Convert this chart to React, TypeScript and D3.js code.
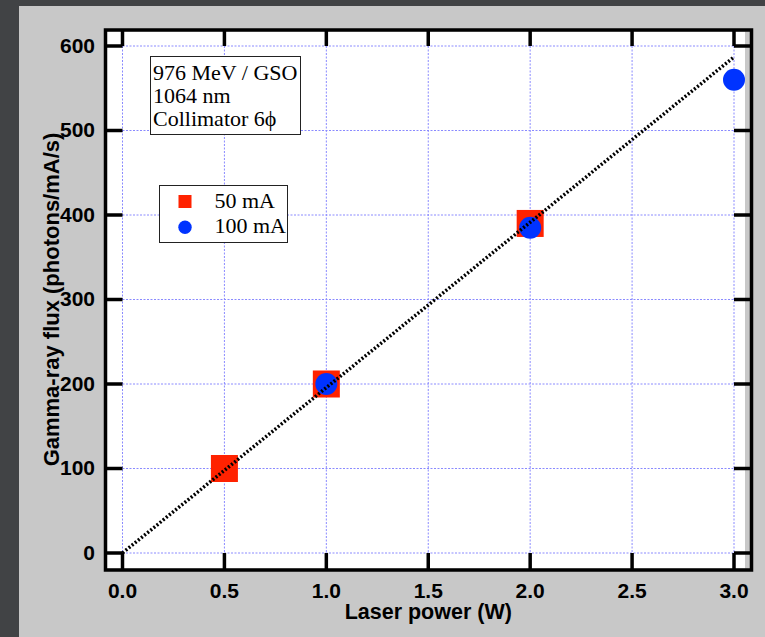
import React from "react";
import * as d3 from "d3";

// laser power (W) vs gamma-ray flux (photons/mA/s)
const power50 = [0.5, 1.0, 2.0];
const flux50 = [100, 200, 390];
const power100 = [1.0, 2.0, 3.0];
const flux100 = [200, 385, 560];
const fitPower = [0, 3.0];
const fitFlux = [0, 587];
const xTicks = [0, 0.5, 1.0, 1.5, 2.0, 2.5, 3.0];
const yTicks = [0, 100, 200, 300, 400, 500, 600];
const noteLines = ["976 MeV / GSO", "1064 nm", "Collimator 6\u03D5"];
const legendLabels = ["50 mA", "100 mA"];

const W = 765;
const H = 637;

const x = d3.scaleLinear().domain([0, 3]).range([122.5, 734]);
const y = d3.scaleLinear().domain([0, 600]).range([553, 46]);

const frame = { left: 105.5, right: 751.5, top: 30, bottom: 570 };
const sans = "'Liberation Sans', Arial, Helvetica, sans-serif";
const serif = "'Liberation Serif', 'Times New Roman', serif";
const red = "#ff2200";
const blue = "#0033ff";
const gridColor = "#8a8aff";

const App = () => {
	const fitLine = d3
		.line<number>()
		.x((d) => x(d))
		.y((d, i) => y(fitFlux[i]));

	return (
		<svg
			width={W}
			height={H}
			style={{ position: "absolute", left: 0, top: 0 }}
			xmlns="http://www.w3.org/2000/svg"
		>
			<rect x={0} y={0} width={W} height={H} fill="#414345" />
			<rect x={19} y={6} width={W - 19} height={H - 6} fill="#c8c8c8" />
			<rect x={frame.left} y={frame.top + 1.5} width={745 - frame.left} height={frame.bottom - frame.top - 3} fill="#ffffff" />

			{/* grid */}
			<g stroke={gridColor} strokeWidth={1} strokeDasharray="2,1.5">
				{xTicks.map((t) => (
					<line key={"gx" + t} x1={x(t)} x2={x(t)} y1={y(600)} y2={y(0)} />
				))}
				{yTicks.map((t) => (
					<line key={"gy" + t} x1={x(0)} x2={x(3)} y1={y(t)} y2={y(t)} />
				))}
			</g>

			{/* markers */}
			{power50.map((p, i) => (
				<rect key={"s" + i} x={x(p) - 13.5} y={y(flux50[i]) - 13.5} width={27} height={27} fill={red} />
			))}
			{power100.map((p, i) => (
				<circle key={"c" + i} cx={x(p)} cy={y(flux100[i])} r={11} fill={blue} />
			))}

			{/* fit */}
			<path d={fitLine(fitPower) || ""} fill="none" stroke="#000" strokeWidth={3.5} strokeDasharray="2,2" />

			{/* annotation */}
			<rect x={150.5} y={56.5} width={150} height={78} fill="#fff" stroke="#222" strokeWidth={1} />
			{noteLines.map((t, i) => (
				<text key={t} x={153} y={79.5 + i * 23} fontFamily={serif} fontSize={22} fill="#000">
					{t}
				</text>
			))}

			{/* legend */}
			<rect x={159.5} y={185.5} width={128} height={57} fill="#fff" stroke="#222" strokeWidth={1} />
			<rect x={178.5} y={195} width={13} height={13} fill={red} />
			<circle cx={185} cy={227.3} r={6.7} fill={blue} />
			{legendLabels.map((t, i) => (
				<text key={t} x={214.5} y={207.7 + i * 25.6} fontFamily={serif} fontSize={22} fill="#000">
					{t}
				</text>
			))}

			{/* frame and ticks */}
			<g stroke="#000" strokeWidth={3.5} fill="none">
				<rect x={frame.left} y={frame.top} width={frame.right - frame.left} height={frame.bottom - frame.top} />
				{xTicks.map((t) => (
					<g key={"tx" + t}>
						<line x1={x(t)} x2={x(t)} y1={frame.top} y2={y(600)} />
						<line x1={x(t)} x2={x(t)} y1={y(0)} y2={frame.bottom} />
					</g>
				))}
				{yTicks.map((t) => (
					<g key={"ty" + t}>
						<line x1={frame.left} x2={x(0)} y1={y(t)} y2={y(t)} />
						<line x1={x(3)} x2={frame.right} y1={y(t)} y2={y(t)} />
					</g>
				))}
			</g>

			{/* tick labels */}
			<g fontFamily={sans} fontWeight="bold" fontSize={21} fill="#000">
				{xTicks.map((t) => (
					<text key={"lx" + t} x={x(t)} y={598} textAnchor="middle">
						{d3.format(".1f")(t)}
					</text>
				))}
				{yTicks.map((t) => (
					<text key={"ly" + t} x={95} y={y(t) - 1} dy="0.36em" textAnchor="end">
						{t}
					</text>
				))}
			</g>

			<text x={x(1.5)} y={619} textAnchor="middle" fontFamily={sans} fontWeight="bold" fontSize={21.5} fill="#000">
				Laser power (W)
			</text>
			<text
				transform={`translate(59,${(y(0) + y(600)) / 2}) rotate(-90)`}
				textAnchor="middle"
				fontFamily={sans}
				fontWeight="bold"
				fontSize={22}
				fill="#000"
			>
				Gamma-ray flux (photons/mA/s)
			</text>
		</svg>
	);
};

export default App;
